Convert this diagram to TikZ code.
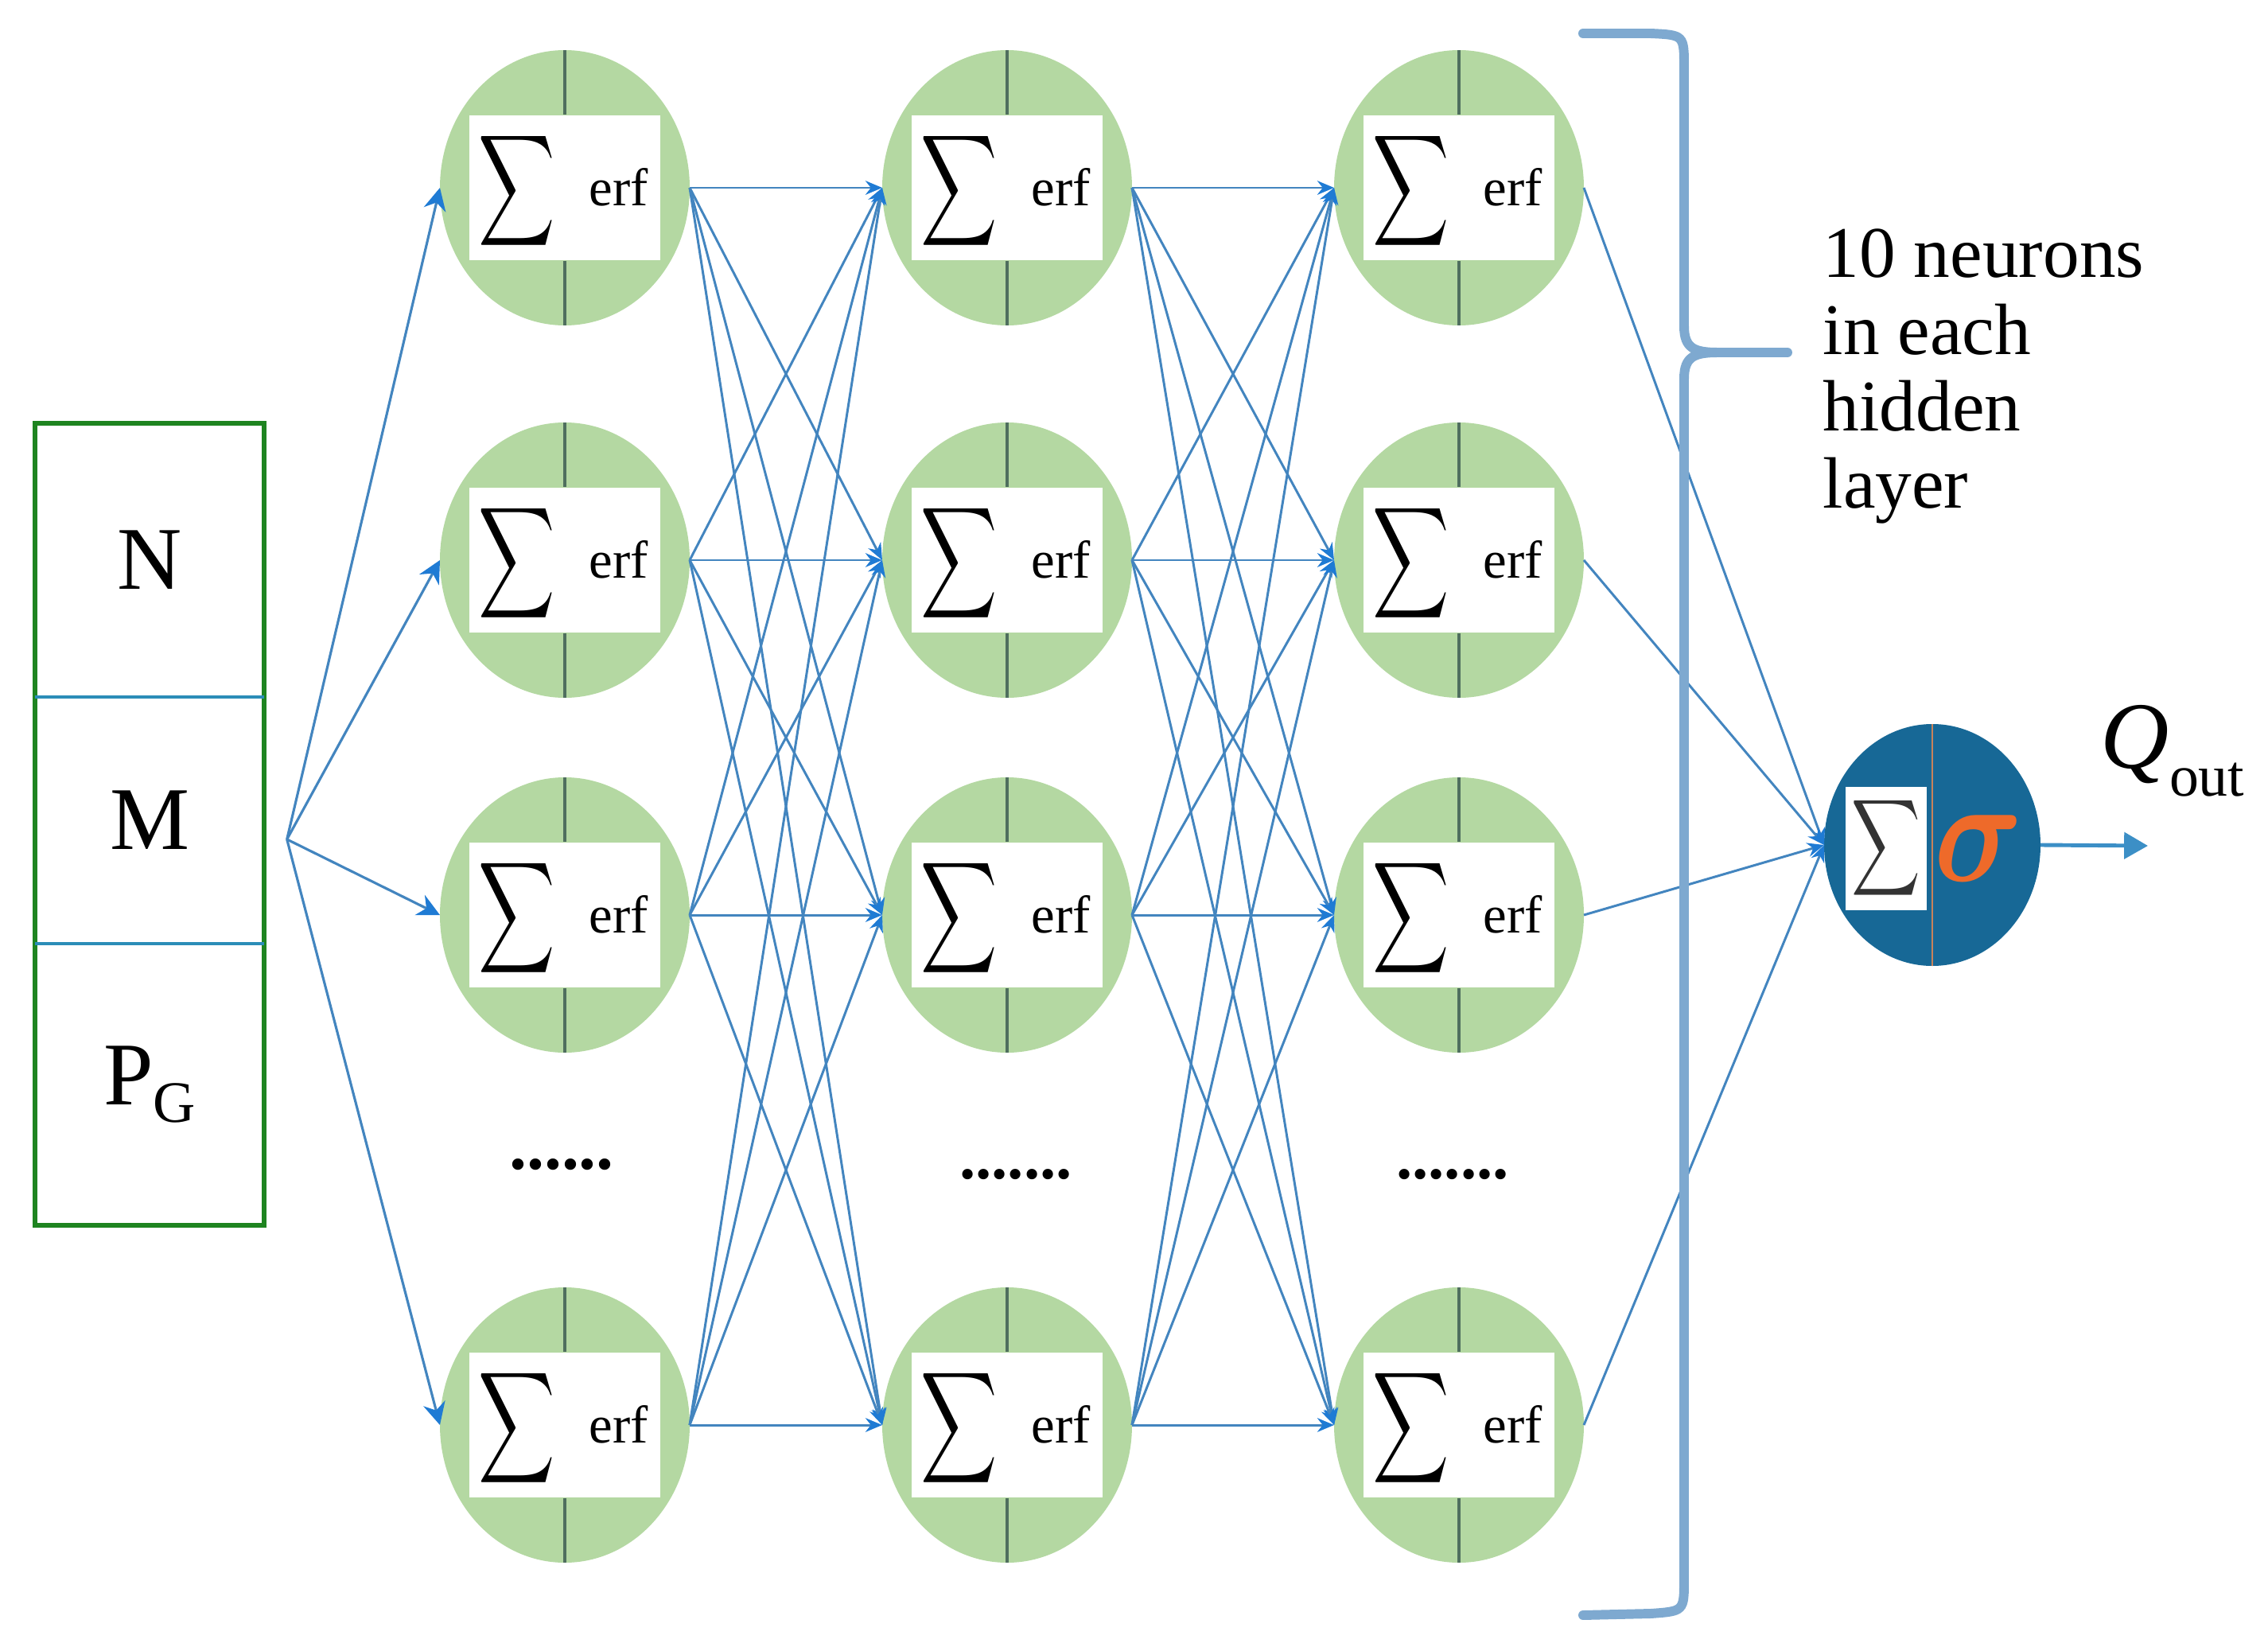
\documentclass[tikz,border=0pt]{standalone}
\usepackage{fontspec}
\setmainfont{Liberation Serif}
\usepackage{xcolor}
\definecolor{neurongreen}{HTML}{B4D8A2}
\definecolor{midgray}{HTML}{4F6F5E}
\definecolor{linkblue}{HTML}{4385BF}
\definecolor{tipblue}{HTML}{1F7BD4}
\definecolor{outblue}{HTML}{176896}
\definecolor{sigorange}{HTML}{EE6A2A}
\definecolor{lineorange}{HTML}{C8825A}
\definecolor{boxgreen}{HTML}{1E8420}
\definecolor{divblue}{HTML}{2B8DB8}
\definecolor{braceblue}{HTML}{7EA9D0}
\definecolor{arrowblue}{HTML}{3C8FC6}
\usepackage{tikz}
\usetikzlibrary{
  positioning,
  arrows.meta,
  shapes.geometric
}

\newcommand{\sumglyph}[2]{\scalebox{#1}[#2]{$\displaystyle\sum$}}

\begin{document}
\begin{tikzpicture}[
  >=Stealth,
  neuron/.style={
    ellipse, fill=neurongreen, minimum width=3.14cm, minimum height=3.46cm,
    inner sep=0pt, outer sep=0pt
  },
  sumbox/.style={
    rectangle, fill=white, minimum width=2.4cm, minimum height=1.82cm,
    inner sep=0pt
  },
  midline/.style={draw=midgray, line width=0.9pt},
  erftext/.style={inner sep=0pt, font=\fontsize{19}{22}\selectfont},
  inpart/.style={
    rectangle, minimum width=2.86cm, inner sep=0pt,
    font=\fontsize{32}{34}\selectfont
  },
  dots/.style={inner sep=0pt, font=\bfseries\fontsize{25}{25}\selectfont},
  link/.style={
    linkblue, line width=0.85pt,
    -{Stealth[length=6pt, width=5pt, color=tipblue]}
  },
  inlink/.style={
    linkblue, line width=0.9pt,
    -{Stealth[length=8pt, width=8pt, color=tipblue]}
  },
  outnode/.style={
    ellipse, fill=outblue, minimum width=2.72cm, minimum height=3.04cm,
    inner sep=0pt, outer sep=0pt
  },
  outbox/.style={
    rectangle, fill=white, minimum width=1.02cm, minimum height=1.55cm,
    inner sep=0pt
  },
  outlink/.style={
    arrowblue, line width=1.4pt,
    -{Triangle[length=8.5pt, width=9.4pt]}
  },
  bracepath/.style={braceblue, line width=3.4pt, line cap=round}
]

\useasboundingbox (0,0) rectangle (28.51,-20.70);

% inputs
\node[inpart, minimum height=3.42cm] (inN) at (1.88,-7.04) {N};
\node[inpart, minimum height=3.09cm, below=0pt of inN] (inM) {M};
\node[inpart, minimum height=3.52cm, below=0pt of inM] (inP)
  {P\raisebox{-2.2mm}{\fontsize{21}{22}\selectfont G}};
\draw[boxgreen, line width=1.7pt] (inN.north west) rectangle (inP.south east);
\draw[divblue, line width=1.15pt] (inN.south west) -- (inN.south east);
\draw[divblue, line width=1.15pt] (inM.south west) -- (inM.south east);
\coordinate (fan) at ([xshift=2.9mm, yshift=-2.4mm]inM.east);

% hidden layers
\foreach \c/\x in {1/7.10, 2/12.66, 3/18.34} {
  \foreach \r/\y in {1/-2.36, 2/-7.04, 3/-11.50, 4/-17.91} {
    \node[neuron] (n\c\r) at (\x,\y) {};
    \node[sumbox] (b\c\r) at (n\c\r) {};
    \draw[midline] (n\c\r.north) -- (b\c\r.north);
    \draw[midline] (b\c\r.south) -- (n\c\r.south);
    \node[inner sep=0pt] (s\c\r) at ([xshift=-6mm, yshift=-0.4mm]b\c\r.center)
      {\sumglyph{1.9}{2.78}};
    \node[erftext] (e\c\r) at ([xshift=6.8mm, yshift=0.1mm]b\c\r.center) {erf};
  }
}
\node[dots] (dots1) at (7.06,-14.64) {......};
\node[dots, font=\bfseries\fontsize{23}{23}\selectfont] (dots2) at (12.77,-14.76) {.......};
\node[dots, font=\bfseries\fontsize{23}{23}\selectfont] (dots3) at (18.26,-14.76) {.......};

% output
\node[outnode] (out) at (24.29,-10.62) {};
\node[outbox] (ob) at ([xshift=-5.8mm, yshift=-0.4mm]out.center) {};
\draw[lineorange, line width=0.6pt] (out.north) -- (out.south);
\node[inner sep=0pt, text=black!80] (osum) at (ob) {\sumglyph{1.71}{2.41}};
\node[inner sep=0pt, text=sigorange] (osig) at ([xshift=5.8mm, yshift=-0.4mm]out.center)
  {\scalebox{4.4}[5.3]{\boldmath$\sigma$}};
\coordinate (qend) at (27.00,-10.63);
\draw[outlink] (out.east) -- (qend);
\node[anchor=base west, inner sep=0pt] (qlabel) at (26.40,-9.65)
  {{\fontsize{34}{36}\selectfont\itshape Q}\raisebox{-3.5mm}{\fontsize{21}{23}\selectfont out}};

% connections
\foreach \r in {1,...,4} {
  \draw[inlink] (fan) -- (n1\r.west);
  \draw[link] (n3\r.east) -- (out.west);
}
\foreach \a in {1,...,4} {
  \foreach \b in {1,...,4} {
    \draw[link] (n1\a.east) -- (n2\b.west);
    \draw[link] (n2\a.east) -- (n3\b.west);
  }
}

% brace
\draw[bracepath] (19.90,-0.42) -- (20.75,-0.42)
  .. controls (21.17,-0.44) .. (21.17,-0.85) -- (21.17,-4.10)
  .. controls (21.17,-4.38) and (21.30,-4.43) .. (21.60,-4.43) -- (22.47,-4.43);
\draw[bracepath] (21.60,-4.43)
  .. controls (21.30,-4.43) and (21.17,-4.48) .. (21.17,-4.76) -- (21.17,-19.85)
  .. controls (21.17,-20.25) .. (20.75,-20.28) -- (19.90,-20.30);
\node[anchor=north west, align=left, inner sep=0pt,
  font=\fontsize{26}{27.5}\selectfont] (note) at (22.91,-2.87)
  {10 neurons\\in each\\hidden\\layer};

\end{tikzpicture}
\end{document}
